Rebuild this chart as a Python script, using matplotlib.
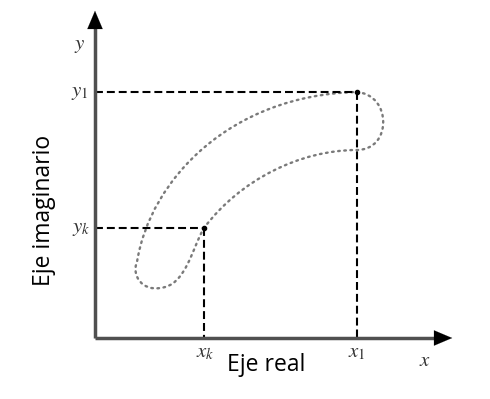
import matplotlib
matplotlib.use('Agg')
import matplotlib.pyplot as plt
from matplotlib.path import Path
from matplotlib.patches import PathPatch

plt.rcParams['mathtext.fontset'] = 'stix'

# diagram coordinates (pixel-like units, y grows downwards)
origin = (95, 338)
x_end = 455
y_end = 8
p_k = (204, 228)   # (x_k, y_k)
p_1 = (357, 92)    # (x_1, y_1)

# dotted loop as cubic bezier segments: start point, then (c1, c2, end) triples
loop_start = p_1
loop_segments = [
    ((392, 95), (392, 150), (357, 150)),
    ((300, 150), (240, 180), p_k),
    ((192, 248), (186, 286), (160, 288)),
    ((143, 291), (131, 276), (137, 262)),
    ((150, 180), (230, 95), p_1),
]

fig = plt.figure(figsize=(4.9, 3.99), dpi=100)
ax = fig.add_axes([0, 0, 1, 1])
ax.set_xlim(0, 490)
ax.set_ylim(399, 0)
ax.axis('off')

# dotted loop
verts = [loop_start]
codes = [Path.MOVETO]
for c1, c2, end in loop_segments:
    verts += [c1, c2, end]
    codes += [Path.CURVE4] * 3
ax.add_patch(PathPatch(Path(verts, codes), fill=False, edgecolor='#7a7a7a',
                       lw=1.7, linestyle=(0, (0.7, 1.9)), capstyle='round'))

# dashed guides
dash = (0, (3.8, 1.9))
for px, py in (p_k, p_1):
    ax.plot([origin[0], px], [py, py], color='black', lw=1.5, linestyle=dash)
    ax.plot([px, px], [py, origin[1]], color='black', lw=1.5, linestyle=dash)
    ax.plot(px, py, 'o', color='black', ms=3)

# axes with arrows
ax.plot([origin[0], x_end - 15], [origin[1], origin[1]], color='#505050', lw=2.5,
        solid_capstyle='butt')
ax.plot([origin[0], origin[0]], [origin[1], y_end + 15], color='#505050', lw=2.5,
        solid_capstyle='butt')
arrow = dict(arrowstyle='-|>,head_length=1.3,head_width=0.55', color='black', lw=0.1)
ax.annotate('', xy=(x_end, origin[1]), xytext=(x_end - 20, origin[1]), arrowprops=arrow)
ax.annotate('', xy=(origin[0], y_end), xytext=(origin[0], y_end + 20), arrowprops=arrow)

# labels
tc = '#333333'
ax.text(80, 45, '$y$', fontsize=15, color=tc, ha='center', va='center')
ax.text(80, 92, '$y_1$', fontsize=15, color=tc, ha='center', va='center')
ax.text(81, 228, '$y_k$', fontsize=15, color=tc, ha='center', va='center')
ax.text(205, 352, '$x_k$', fontsize=15, color=tc, ha='center', va='center')
ax.text(357, 352, '$x_1$', fontsize=15, color=tc, ha='center', va='center')
ax.text(425, 360, '$x$', fontsize=15, color=tc, ha='center', va='center')
ax.text(266, 365, 'Eje real', fontsize=16.5, color='black', family='Open Sans',
        ha='center', va='center')
ax.text(44, 210, 'Eje imaginario', fontsize=16.5, color='black', family='Open Sans',
        ha='center', va='center', rotation=90)

fig.savefig('out.png', dpi=100, facecolor='white')
